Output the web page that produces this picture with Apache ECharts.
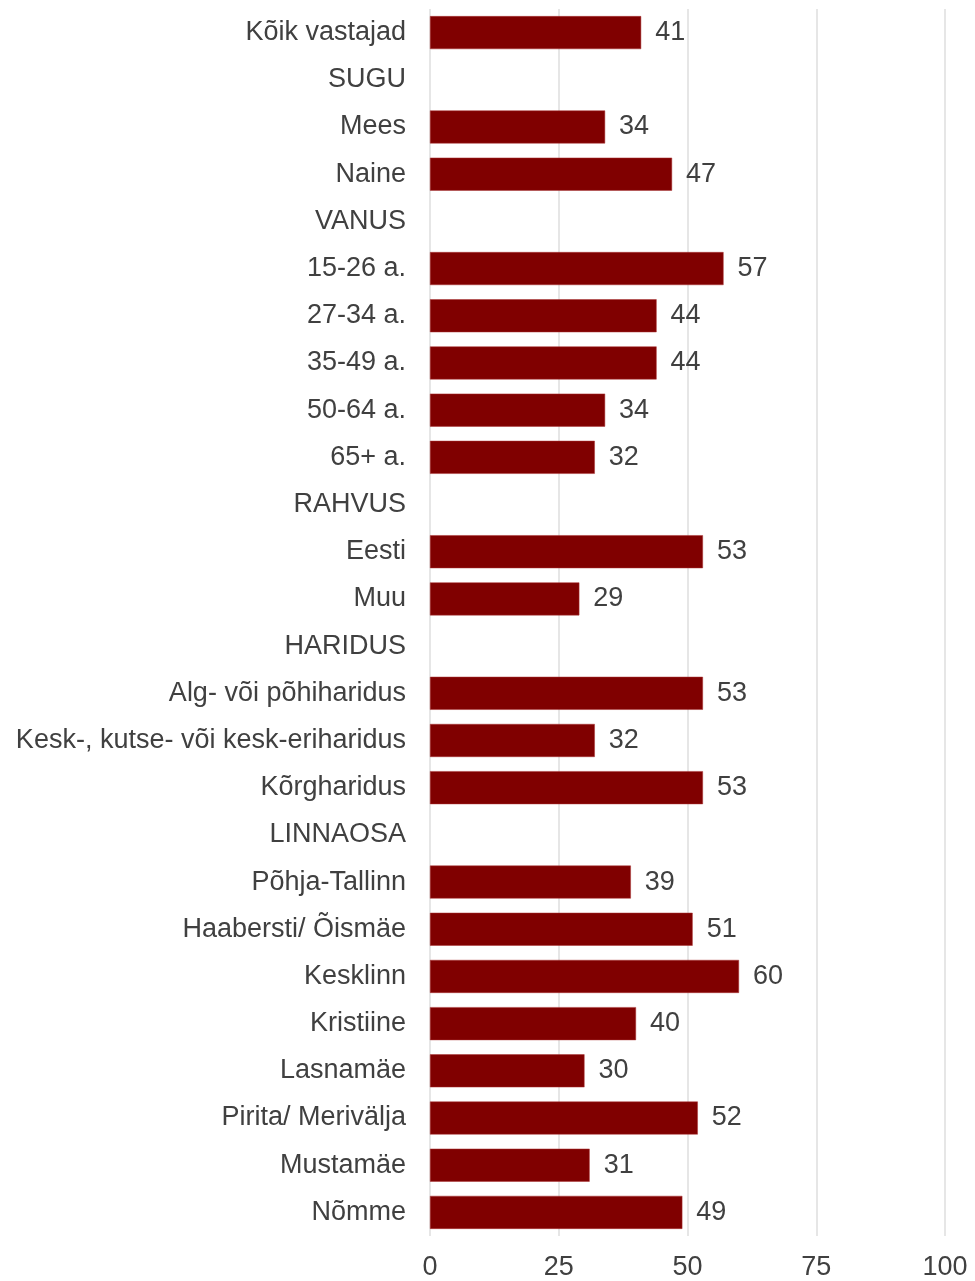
<!DOCTYPE html>
<html>
<head>
<meta charset="utf-8">
<script src="https://cdn.jsdelivr.net/npm/echarts@6/dist/echarts.min.js"></script>
<style>
  html, body { margin: 0; padding: 0; background: #fff; }
  #chart { width: 975px; height: 1281px; }
</style>
</head>
<body>
<div id="chart"></div>
<script>
// kategooriad ülevalt alla
const categories = [
  'Kõik vastajad', 'SUGU', 'Mees', 'Naine', 'VANUS',
  '15-26 a.', '27-34 a.', '35-49 a.', '50-64 a.', '65+ a.',
  'RAHVUS', 'Eesti', 'Muu', 'HARIDUS',
  'Alg- või põhiharidus', 'Kesk-, kutse- või kesk-eriharidus', 'Kõrgharidus',
  'LINNAOSA', 'Põhja-Tallinn', 'Haabersti/ Õismäe', 'Kesklinn', 'Kristiine',
  'Lasnamäe', 'Pirita/ Merivälja', 'Mustamäe', 'Nõmme'
]
// väärtused (null = pealkirjarida)
const values = [
  41, null, 34, 47, null,
  57, 44, 44, 34, 32,
  null, 53, 29, null,
  53, 32, 53,
  null, 39, 51, 60, 40,
  30, 52, 31, 49
]
const xTicks = [0, 25, 50, 75, 100]

const chart = echarts.init(document.getElementById('chart'))
const font = 'Liberation Sans, Arial, sans-serif'
const textColor = '#404040'

chart.setOption({
  animation: false,
  grid: { left: 430, right: 30, top: 9, bottom: 45 },
  xAxis: {
    type: 'value',
    min: xTicks[0],
    max: xTicks[xTicks.length - 1],
    interval: 25,
    axisLine: { show: false },
    axisTick: { show: false },
    splitLine: { lineStyle: { color: '#e6e6e6', width: 2 } },
    axisLabel: { color: textColor, fontSize: 27, fontFamily: font, margin: 18 }
  },
  yAxis: {
    type: 'category',
    inverse: true,
    data: categories,
    axisLine: { show: false },
    axisTick: { show: false },
    axisLabel: { color: textColor, fontSize: 27, fontFamily: font, margin: 24 }
  },
  series: [{
    type: 'bar',
    data: values,
    barWidth: 33,
    itemStyle: { color: '#800000', borderColor: '#a33', borderWidth: 0.5 },
    label: {
      show: true,
      position: 'right',
      distance: 14,
      color: textColor,
      fontSize: 27,
      fontFamily: font
    }
  }]
})
</script>
</body>
</html>
